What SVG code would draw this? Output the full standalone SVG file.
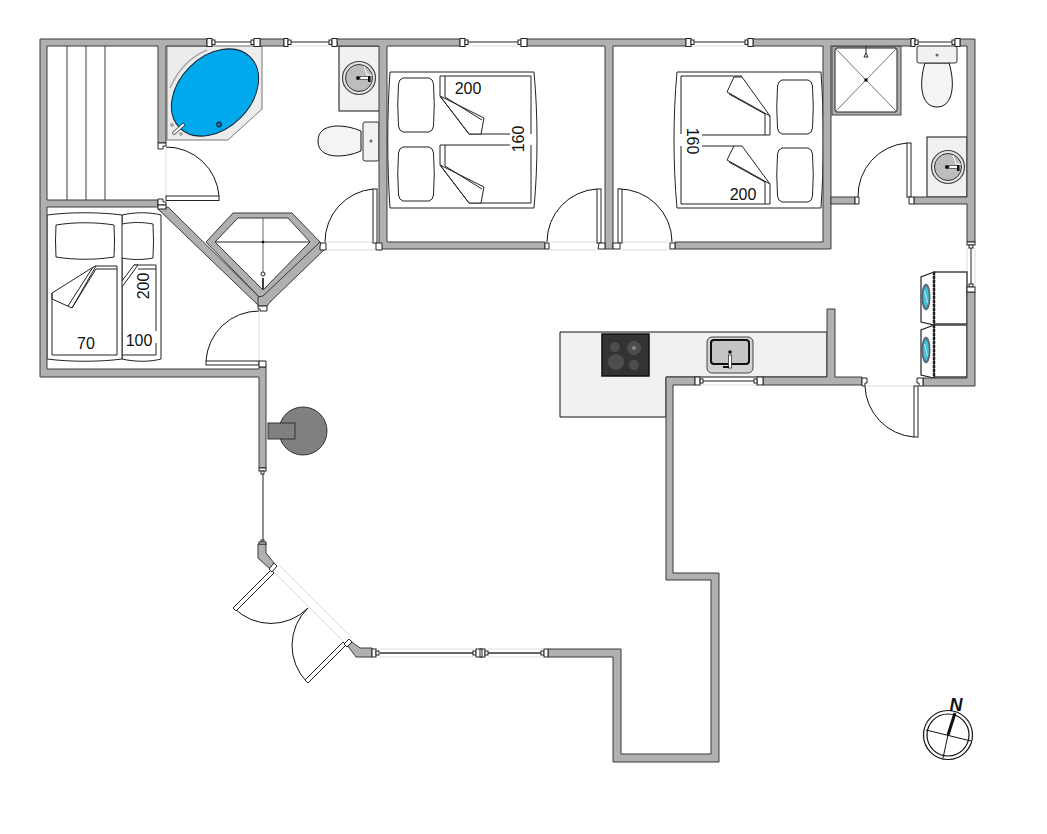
<svg xmlns="http://www.w3.org/2000/svg" width="1047" height="834" viewBox="0 0 1047 834">
<style>
.w{fill:#b0b0b0;stroke:#3a3a3a;stroke-width:1;stroke-linejoin:miter}
.f{fill:#fff;stroke:#222;stroke-width:1}
.d{fill:#fff;stroke:#222;stroke-width:1}
.a{fill:none;stroke:#111;stroke-width:1}
.o{fill:none;stroke:#dcdcdc;stroke-width:1}
.l{fill:none;stroke:#222;stroke-width:1}
.g{fill:none;stroke:#777;stroke-width:1.5}
.c{fill:#f1f1f1;stroke:#111;stroke-width:1}
.b{fill:#fff;stroke:#222;stroke-width:1}
.t{font-family:"Liberation Sans",Arial,sans-serif;font-size:16px;fill:#111;text-anchor:middle}
</style>
<defs>
<g id="basin">
<circle r="16.5" fill="#e4e4e4" stroke="#444" stroke-width="1.2"/>
<circle r="13.5" fill="#bdbdbd" stroke="#333" stroke-width="1"/>
<path d="M5 -12L8 -3L13 -3" fill="none" stroke="#fff" stroke-width="1"/>
<circle cx="-1" cy="0" r="2" fill="#111"/>
<rect x="1" y="-1.5" width="9" height="3" fill="#fff" stroke="#333" stroke-width=".7"/>
<rect x="9" y="-2" width="2.5" height="6" fill="#111"/>
</g>
<g id="washer">
<rect x="13" y="0" width="33" height="52" fill="#fff" stroke="#444" stroke-width="1.5"/>
<path d="M13 0L0 5V50L13 53Z" fill="#fff" stroke="#222" stroke-width="1.2"/>
<path d="M13 0V53" stroke="#222" stroke-width="2.5" stroke-dasharray="3 1" fill="none"/>
<ellipse cx="5" cy="25" rx="4" ry="13" fill="#5a7f8e" stroke="#345" stroke-width=".8"/>
<ellipse cx="5" cy="25" rx="2.6" ry="10" fill="#3fc4d8"/>
<path d="M3.5 19L6.5 31" stroke="#cde" stroke-width="1"/>
</g>
<path id="pillow" class="b" d="M5 0H31Q35 1 35.500 6Q37 27 35.500 48Q35 53 31 54H5Q1 53 .5 48Q-1 27 .5 6Q1 1 5 0Z"/>
</defs>
<rect width="1047" height="834" fill="#fff"/>

<g id="counters">
<path d="M560 332H827V377H666V417H560Z" class="c"/>
<rect x="339" y="46" width="41" height="65" class="c"/>
<rect x="927" y="137" width="40" height="60" class="c"/>
</g>

<g id="openings">
<path class="o" d="M166 149V199M326 242H376M326 250H376M549 242H597M549 250H597M620 242H670M620 250H670M259 311V361M867 386H917M207 46H257M290 46H337M466 46H527M692 46H753M916 46H960M380 649H474M488 649H543M380 657H474M488 657H543M967 248V287M975 248V287M279 565L352 638M273 571L346 644M700 385H757"/>
</g>

<g id="bath">
<path d="M167 46H262V109L228 140H167Z" fill="#ececec" stroke="#777" stroke-width="1"/>
<path d="M170 88C178 70 190 57 207 50" fill="none" stroke="#aaa" stroke-width="1.600"/>
<ellipse cx="215" cy="92.500" rx="50" ry="36" transform="rotate(-45 215 92.500)" fill="#00a8ec" stroke="#123" stroke-width="1"/>
<path d="M174 133L183 125" stroke="#333" stroke-width="3.600" stroke-linecap="round"/>
<path d="M174 133L183 125" stroke="#fff" stroke-width="2.200" stroke-linecap="round"/>
<circle cx="172" cy="125" r="1.300" fill="#eee" stroke="#555" stroke-width=".7"/>
<circle cx="181" cy="134" r="1.300" fill="#eee" stroke="#555" stroke-width=".7"/>
<circle cx="219" cy="124.500" r="2.500" fill="#2a6a90" stroke="#113" stroke-width="1"/>
</g>

<g id="sauna-benches">
<path d="M67 46V200M86 46V200M105 46V200" fill="none" stroke="#777" stroke-width="1.400"/>
</g>

<g id="bed-100">
<path d="M122 215C135 212 150 212 161 215V359C150 362 135 362 122 359Z" class="b"/>
<path d="M122 224C132 222 143 222 153 224Q154 241 153 258C143 260 132 260 122 258" class="b"/>
<path d="M134 265H156V331M156 343V355H122M138 269H156" class="l"/>
<path d="M122 281L134 265H138L122 287" class="b"/>
</g>
<g id="bed-70">
<path d="M47 215C70 212 100 212 122 215V359C100 362 70 362 47 359Z" class="b"/>
<path d="M52 293V355H117V266H95L52 293L52 299L72 308L96 269H117" class="b"/>
<path d="M96 266L72 308M93 267L68 306" class="l"/>
<path d="M56 225C74 222 96 222 114 225Q115 241 114 257C96 260 74 260 56 257Q55 241 56 225Z" class="b"/>
</g>

<g id="bed-double-1">
<path d="M390 72H534C538 115 538 165 534 208H390C387 165 387 115 390 72Z" class="b"/>
<path d="M440 96V76H531V134M531 145V203H469M440 165V145H510M469 134H510" class="l"/>
<path d="M445 76V97M445 145V166" class="l"/>
<path d="M440 96L484 118L481 134H469Z" class="b"/>
<path d="M445 97L482 120M440 96L469 134" class="l"/>
<path d="M440 165L484 187L481 203H469Z" class="b"/>
<path d="M445 166L482 189M440 165L469 203" class="l"/>
<use href="#pillow" x="398" y="78"/>
<use href="#pillow" x="398" y="147"/>
</g>

<g id="bed-double-2">
<path d="M677 72H821C824 115 824 165 821 208H677C673 165 673 115 677 72Z" class="b"/>
<path d="M742 76H681V134M681 146V204H770V184M770 135H702M734 146H702M770 116V135M765 114V135M765 182V204" class="l"/>
<path d="M770 116L727 92L734 77H742Z" class="b"/>
<path d="M765 114L729 94" class="l"/>
<path d="M770 184L727 160L734 146H742Z" class="b"/>
<path d="M765 182L729 162" class="l"/>
<use href="#pillow" x="777" y="80"/>
<use href="#pillow" x="777" y="148"/>
</g>

<g id="shower-1">
<path d="M215 242H310" fill="none" stroke="#222" stroke-width="1"/>
<path d="M263 218V273" fill="none" stroke="#666" stroke-width="1"/>
<path d="M263 278V292" fill="none" stroke="#111" stroke-width="1.600"/>
<circle cx="263" cy="242" r="1.300" fill="#111"/>
<circle cx="263" cy="274" r="2" fill="#fff" stroke="#222"/>
</g>
<g id="shower-2">
<rect x="832" y="46" width="69" height="69" fill="#b0b0b0" stroke="#444"/>
<rect x="835" y="48" width="62" height="64" rx="2" fill="#fff" stroke="#222"/>
<path d="M836 49L896 111M896 49L836 111" stroke="#777" stroke-width="1" fill="none"/>
<circle cx="866" cy="80" r="1.800" fill="#111"/>
<path d="M864 57L866 53L868 57Z" fill="#fff" stroke="#222"/>
<path d="M866 46V53" stroke="#222"/>
</g>

<g id="toilet-1">
<path d="M361 131C345 124 318 122 318 141C318 160 345 158 361 151Z" fill="#f4f4f4" stroke="#111"/>
<rect x="363" y="122" width="16" height="39" rx="2" fill="#f1f1f1" stroke="#333"/>
<circle cx="371" cy="141" r="1.500" fill="#666"/>
</g>
<g id="toilet-2">
<path d="M925 63C919 82 920 107 937 107C954 107 955 82 949 63Z" fill="#f4f4f4" stroke="#111"/>
<rect x="917" y="46" width="40" height="17" rx="2" fill="#f1f1f1" stroke="#333"/>
<circle cx="937" cy="55" r="1.500" fill="#666"/>
</g>
<use id="basin-1" href="#basin" x="359" y="78"/>
<use id="basin-2" href="#basin" x="948" y="167"/>

<g id="hob">
<rect x="602" y="334" width="47" height="42" fill="#333" stroke="#111" stroke-width="1.500"/>
<circle cx="615" cy="347" r="5" fill="#4d4d4d"/>
<circle cx="634" cy="348" r="7" fill="#4d4d4d"/>
<circle cx="634" cy="348" r="2" fill="#888"/>
<circle cx="616" cy="362" r="8" fill="#4d4d4d"/>
<circle cx="634" cy="365" r="5" fill="#4d4d4d"/>
</g>
<g id="kitchen-sink">
<rect x="707" y="337" width="46" height="36" rx="5" fill="#d2d2d2" stroke="#444"/>
<rect x="711" y="340" width="38" height="24" rx="3" fill="#c4c4c4" stroke="#111" stroke-width="2"/>
<circle cx="730" cy="352" r="1.800" fill="#111"/>
<rect x="728.500" y="355" width="3" height="13" fill="#fff" stroke="#333" stroke-width=".8"/>
<rect x="723" y="366" width="6" height="2" fill="#111"/>
</g>
<use id="washer-1" href="#washer" x="921" y="272"/>
<use id="washer-2" href="#washer" x="921" y="325"/>

<g id="fireplace">
<circle cx="303" cy="431" r="24" fill="#808080" stroke="#333"/>
<rect x="268" y="423" width="27" height="16" fill="#808080" stroke="#333"/>
</g>

<g id="walls">
<path class="w" d="M40 39H207V46H166V143H158V46H47V200H158V207H47V369H259V367H266V468H259V377H40Z"/>
<rect class="w" x="260" y="39" width="24" height="7"/>
<path class="w" d="M337 39H460V46H387V242H545V249H379V46H337Z"/>
<path class="w" d="M527 39H686V46H613V249H605V46H527Z"/>
<path class="w" d="M753 39H911V46H831V249H675V242H823V46H753Z"/>
<path class="w" d="M960 39H975V242H967V204H914V197H967V46H960Z"/>
<rect class="w" x="831" y="197" width="24" height="7"/>
<path class="w" d="M967 292H975V386H923V378H967Z"/>
<path class="w" d="M862 385H763V377H827V309H835V377H862Z"/>
<path class="w" d="M695 377V385H673V573H719V762H613V657H548V649H621V754H711V580H666V377Z"/>
<path class="w" d="M372 648H360L352 642L347 645L356 657H372Z"/>
<path class="w" d="M258 544H266V553L274 563L270 569L258 558Z"/>
<path class="w" fill-rule="evenodd" d="M206 242L233 213H292L320 242L263 301ZM215 242L263 290L310 242L288 218H238Z"/>
<path class="w" d="M158 209L168 207L259 297V306Z"/>
<path class="w" d="M320 242L326 248L270 302L267 306H258V297L263 296Z"/>
</g>

<g id="windows">
<path class="l" d="M212 42H254M290 42H331M466 42H518M692 42H746M916 42H954M971 248V287M263 472V541M700 381H757"/>
<path d="M380 653H473M488 653H543" fill="none" stroke="#666" stroke-width="1.800"/>
<rect class="f" x="207" y="38.500" width="5" height="8"/><rect class="f" x="212" y="40" width="3" height="4.500"/>
<rect class="f" x="251" y="40" width="3" height="4.500"/><rect class="f" x="254" y="38.500" width="6" height="8"/>
<rect class="f" x="284" y="38.500" width="4" height="8"/><rect class="f" x="288" y="40" width="3" height="4.500"/>
<rect class="f" x="329" y="40" width="3" height="4.500"/><rect class="f" x="332" y="38.500" width="5" height="8"/>
<rect class="f" x="460" y="38.500" width="5" height="8"/><rect class="f" x="465" y="40" width="3" height="4.500"/>
<rect class="f" x="518" y="40" width="3" height="4.500"/><rect class="f" x="521" y="38.500" width="6" height="8"/>
<rect class="f" x="686" y="38.500" width="5" height="8"/><rect class="f" x="691" y="40" width="3" height="4.500"/>
<rect class="f" x="745" y="40" width="3" height="4.500"/><rect class="f" x="748" y="38.500" width="5" height="8"/>
<rect class="f" x="911" y="38.500" width="4" height="8"/><rect class="f" x="915" y="40" width="3" height="4.500"/>
<rect class="f" x="952" y="40" width="3" height="4.500"/><rect class="f" x="955" y="38.500" width="5" height="8"/>
<rect class="f" x="967" y="242" width="8" height="3"/><rect class="f" x="969" y="245" width="4" height="3"/>
<rect class="f" x="969" y="284" width="4" height="3"/><rect class="f" x="967" y="287" width="8" height="5"/>
<rect class="f" x="259" y="468" width="7" height="3"/><rect class="f" x="261" y="471" width="3" height="3"/>
<rect class="f" x="261" y="540" width="3" height="2"/><rect class="f" x="259" y="542" width="7" height="2"/>
<rect class="f" x="757" y="377" width="6" height="8"/><rect class="f" x="754" y="379" width="3" height="4"/>
<rect class="f" x="695" y="377" width="5" height="8"/><rect class="f" x="700" y="379" width="3" height="4"/>
<rect class="f" x="372" y="649" width="4" height="8"/><rect class="f" x="376" y="651" width="3" height="4"/>
<rect class="f" x="473" y="651" width="3" height="4"/><rect class="f" x="476" y="649" width="9" height="8"/><rect class="f" x="480" y="649" width="2" height="8"/><rect class="f" x="485" y="651" width="3" height="4"/>
<rect class="f" x="541" y="651" width="3" height="4"/><rect class="f" x="544" y="649" width="4" height="8"/>
</g>

<g id="doors">
<path class="a" d="M166 147A53 53 0 0 1 219 196"/><rect class="d" x="166" y="196" width="53" height="4.500"/>
<path class="f" d="M158 143H166V146H163V149H158Z"/><path class="f" d="M158 199H163V202H166V205H158Z"/><rect class="f" x="158" y="205" width="8" height="4"/>
<path class="a" d="M373 189A53 53 0 0 0 325 242"/><rect class="d" x="373" y="189" width="4" height="54"/>
<path class="f" d="M321 243H326V250H320V246Z"/><path class="f" d="M376 243H382V250H376Z"/>
<path class="a" d="M597 189A53 53 0 0 0 547 242"/><rect class="d" x="597" y="189" width="4" height="54"/>
<path class="f" d="M545 243H549V249H545Z"/><path class="f" d="M599 243H605V249H598Z"/>
<path class="a" d="M618 189A53 53 0 0 1 672 242"/><rect class="d" x="618" y="189" width="4" height="54"/>
<path class="f" d="M613 243H620V249H613Z"/><path class="f" d="M670 243H675V249H670Z"/>
<path class="a" d="M907 143A53 53 0 0 0 858 197"/><rect class="d" x="907" y="143" width="4" height="54"/>
<path class="f" d="M855 197H859V204H855Z"/><path class="f" d="M909 197H914V204H909Z"/>
<path class="a" d="M914 437A53 53 0 0 1 865 386"/><rect class="d" x="914" y="386" width="4" height="51"/>
<path class="f" d="M862 378H867V383H865V386H862Z"/><path class="f" d="M917 378H923V386H919V383H917Z"/>
<path class="a" d="M259 311A53 53 0 0 0 206 361"/><rect class="d" x="206" y="361" width="53" height="4"/>
<path class="f" d="M259 361H266V367H259Z"/><path class="f" d="M258 306H267V311H260V309H258Z"/>
<path class="a" d="M234 608A52 52 0 0 0 308 608"/>
<path class="d" d="M271 570L274 573L236 611L233 608Z"/>
<path class="a" d="M308 608A52 52 0 0 0 307 682"/>
<path class="d" d="M343 642L346 645L308 683L305 680Z"/>
<path class="f" d="M274 563L277 566L272 572L269 569Z"/>
<path class="f" d="M349 639L352 642L347 647L344 644Z"/>
</g>

<g id="labels">
<text class="t" x="86" y="349">70</text>
<text class="t" x="139" y="346">100</text>
<text class="t" transform="translate(149 286) rotate(-90)">200</text>
<text class="t" x="468" y="94">200</text>
<text class="t" transform="translate(524 139) rotate(-90)">160</text>
<text class="t" transform="translate(687 141) rotate(90)">160</text>
<text class="t" x="743" y="200">200</text>
</g>

<g id="compass">
<circle cx="948" cy="735" r="24.500" fill="#fff" stroke="#111" stroke-width="1.200"/>
<circle cx="948" cy="735" r="21" fill="#fff" stroke="#111" stroke-width="1.200"/>
<path d="M926 730L971 741M948 735L943 758" stroke="#111" stroke-width="1" fill="none"/>
<path d="M948 735L955 713" stroke="#111" stroke-width="3" fill="none"/>
<text x="956" y="711" style="font-family:'Liberation Sans',Arial,sans-serif;font-size:18px;font-weight:bold;font-style:italic;text-anchor:middle" fill="#111">N</text>
</g>
</svg>
